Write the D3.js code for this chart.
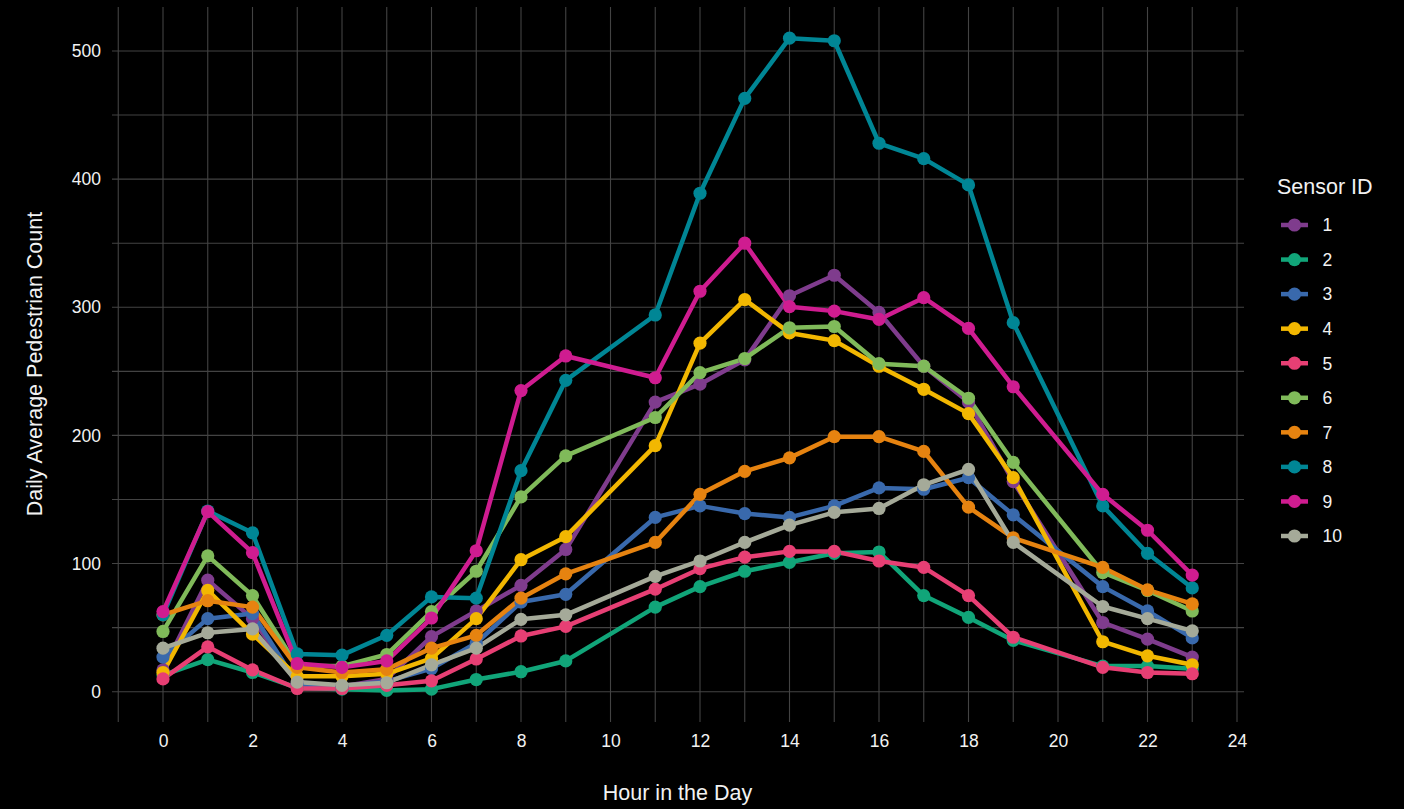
<!DOCTYPE html>
<html>
<head>
<meta charset="utf-8">
<script src="https://cdn.jsdelivr.net/npm/d3@7"></script>
<style>
  html, body { margin: 0; padding: 0; background: #000; }
  svg { display: block; }
  text { font-family: "Liberation Sans", Arial, sans-serif; }
</style>
</head>
<body>
<script>
// ---------------- DATA ----------------
const hours = [0, 1, 2, 3, 4, 5, 6, 7, 8, 9, 11, 12, 13, 14, 15, 16, 17, 18, 19, 21, 22, 23];
const sensorIds = ["1", "2", "3", "4", "5", "6", "7", "8", "9", "10"];
const sensor1  = [17, 87, 57, 7, 4, 10, 43, 63, 83, 111, 226, 240, 259, 309, 325, 296, 254, 226, 164, 54, 41, 27];
const sensor2  = [13, 25, 15, 3, 2, 1, 2, 9.5, 15.6, 24, 66, 82, 94, 101, 108, 109, 75, 58, 40, 20, 20, 18];
const sensor3  = [27, 57, 61, 6, 4, 8, 18, 38, 70, 76, 136, 145, 139, 136, 145, 159, 158, 167, 138, 82, 63, 42];
const sensor4  = [15, 79, 45, 12, 12, 14, 26, 57, 103, 121, 192, 272, 306, 280, 274, 254, 236, 217, 167, 39, 28, 21];
const sensor5  = [10, 35, 17, 2.5, 2.5, 5, 8.5, 25.5, 43.5, 51, 80, 96, 105, 109.5, 109.5, 102, 97, 75, 42.5, 19, 15, 14];
const sensor6  = [47, 106, 75, 20, 20, 29, 62.5, 94, 152, 184, 214, 249, 260, 284, 285, 256, 254, 229, 179, 93, 79, 63];
const sensor7  = [60, 71, 66, 19, 15, 17.5, 34, 44, 73, 92, 116.5, 154, 172, 182.5, 199, 199, 187.5, 144, 120, 97, 79.5, 68.5];
const sensor8  = [60, 141, 124, 29.5, 28.5, 44, 74, 73, 172.5, 243, 294, 389, 463, 510, 508, 428, 416, 395.5, 288, 145, 108, 81];
const sensor9  = [62.5, 140.5, 108.5, 22, 19, 24, 57.5, 110, 235, 262, 245, 312.5, 350, 300.5, 297, 290.5, 307.5, 283.5, 238, 154, 126, 91];
const sensor10 = [34, 46, 49, 7.5, 5, 7, 21, 34, 56.5, 60, 90, 102, 116.5, 130, 140, 143, 161.5, 173.5, 116.5, 66.5, 57, 47.5];
const xTickLabels = [0, 2, 4, 6, 8, 10, 12, 14, 16, 18, 20, 22, 24];
const yTickLabels = [0, 100, 200, 300, 400, 500];
const xTitle = "Hour in the Day";
const yTitle = "Daily Average Pedestrian Count";
const legendTitle = "Sensor ID";

const palette = ["#7F3C8D", "#11A579", "#3969AC", "#F2B701", "#E73F74",
                 "#80BA5A", "#E68310", "#008695", "#CF1C90", "#A5AA99"];

const seriesValues = [sensor1, sensor2, sensor3, sensor4, sensor5, sensor6, sensor7, sensor8, sensor9, sensor10];
const series = sensorIds.map((id, i) => ({
  id, color: palette[i],
  points: hours.map((h, j) => ({ h, v: seriesValues[i][j] }))
}));

// ---------------- LAYOUT ----------------
const W = 1404, H = 809;
const svg = d3.select("body").append("svg").attr("width", W).attr("height", H);
svg.append("rect").attr("width", W).attr("height", H).attr("fill", "#000");

const x = d3.scaleLinear().domain([-1, 24]).range([118.25, 1237]);
const y = d3.scaleLinear().domain([0, 500]).range([691.7, 51]);

const gridColor = "#434343";
const textColor = "#f2f2f2";

// vertical grid lines at every hour
const g = svg.append("g");
g.selectAll("line.vg").data(d3.range(-1, 25)).join("line")
  .attr("class", "vg")
  .attr("x1", d => x(d)).attr("x2", d => x(d))
  .attr("y1", 7).attr("y2", 722)
  .attr("stroke", gridColor).attr("stroke-width", 1.1);
// horizontal grid lines every 50
g.selectAll("line.hg").data(d3.range(0, 501, 50)).join("line")
  .attr("class", "hg")
  .attr("x1", 112).attr("x2", 1244)
  .attr("y1", d => y(d)).attr("y2", d => y(d))
  .attr("stroke", gridColor).attr("stroke-width", 1.1);

// axes (labels only)
const xAxis = svg.append("g").attr("transform", "translate(0,722)")
  .call(d3.axisBottom(x).tickValues(xTickLabels).tickSize(0).tickPadding(12.5).tickFormat(d3.format("d")));
xAxis.select(".domain").remove();
xAxis.selectAll("text").attr("fill", textColor).style("font-size", "17.5px")
  .style("font-family", "'Liberation Sans', Arial, sans-serif");

const yAxis = svg.append("g").attr("transform", "translate(112,0)")
  .call(d3.axisLeft(y).tickValues(yTickLabels).tickSize(0).tickPadding(11).tickFormat(d3.format("d")));
yAxis.select(".domain").remove();
yAxis.selectAll("text").attr("fill", textColor).style("font-size", "17.5px")
  .style("font-family", "'Liberation Sans', Arial, sans-serif");

// titles
svg.append("text").attr("x", 677.5).attr("y", 800).attr("text-anchor", "middle")
  .attr("fill", textColor).style("font-size", "21.5px").text(xTitle);
svg.append("text").attr("transform", "translate(42,364) rotate(-90)").attr("text-anchor", "middle")
  .attr("fill", textColor).style("font-size", "21.5px").text(yTitle);

// lines
const line = d3.line().x(d => x(d.h)).y(d => y(d.v));
svg.append("g").selectAll("path").data(series).join("path")
  .attr("d", d => line(d.points))
  .attr("fill", "none").attr("stroke", d => d.color)
  .attr("stroke-width", 4.5).attr("stroke-linejoin", "round").attr("stroke-linecap", "butt");

// points
svg.append("g").selectAll("g").data(series).join("g")
  .attr("fill", d => d.color)
  .selectAll("circle").data(d => d.points).join("circle")
  .attr("cx", d => x(d.h)).attr("cy", d => y(d.v)).attr("r", 6.6);

// legend
const legend = svg.append("g");
legend.append("text").attr("x", 1277).attr("y", 194).attr("fill", textColor)
  .style("font-size", "21.5px").text(legendTitle);
const ly = d3.scalePoint().domain(sensorIds).range([225, 536]);
const li = legend.selectAll("g.item").data(series).join("g").attr("class", "item")
  .attr("transform", d => `translate(0,${ly(d.id)})`);
li.append("line").attr("x1", 1281).attr("x2", 1308).attr("y1", 0).attr("y2", 0)
  .attr("stroke", d => d.color).attr("stroke-width", 4.5);
li.append("circle").attr("cx", 1294.5).attr("cy", 0).attr("r", 6.6).attr("fill", d => d.color);
li.append("text").attr("x", 1322.5).attr("y", 0).attr("dy", "0.36em").attr("fill", textColor)
  .style("font-size", "17.5px").text(d => d.id);
</script>
</body>
</html>
